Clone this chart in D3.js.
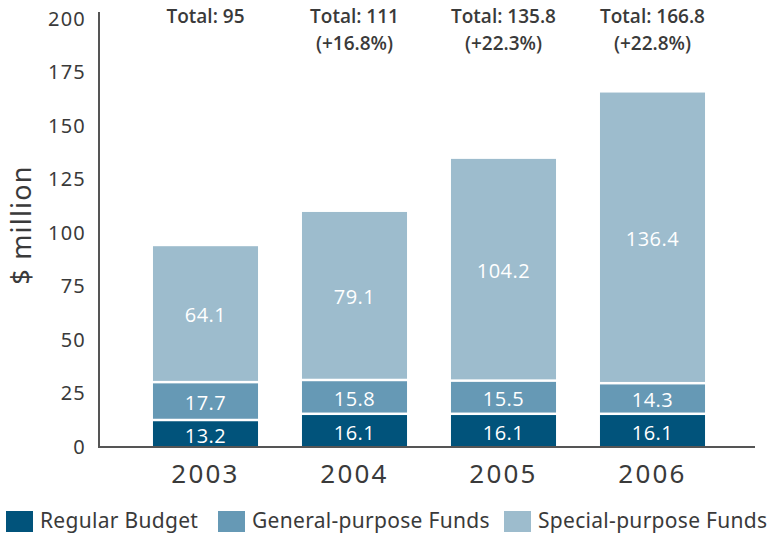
<!DOCTYPE html>
<html>
<head>
<meta charset="utf-8">
<script src="https://cdn.jsdelivr.net/npm/d3@7"></script>
<style>
  body { margin: 0; background: #fff; }
  text { font-family: "Noto Sans", sans-serif; }
</style>
</head>
<body>
<div class="chart"></div>
<script>
const years = ["2003", "2004", "2005", "2006"];
const regularBudget = [13.2, 16.1, 16.1, 16.1];
const generalFunds = [17.7, 15.8, 15.5, 14.3];
const specialFunds = [64.1, 79.1, 104.2, 136.4];
const totalLabels = [["Total: 95"], ["Total: 111", "(+16.8%)"], ["Total: 135.8", "(+22.3%)"], ["Total: 166.8", "(+22.8%)"]];
const seriesNames = ["Regular Budget", "General-purpose Funds", "Special-purpose Funds"];
const yTicks = [0, 25, 50, 75, 100, 125, 150, 175, 200];

const colors = ["#01537b", "#6699b5", "#9dbccd"];

const data = years.map((y, i) => ({
    year: y,
    "Regular Budget": regularBudget[i],
    "General-purpose Funds": generalFunds[i],
    "Special-purpose Funds": specialFunds[i]
}));

const width = 779, height = 534;

const svg = d3.select(".chart")
    .append("svg")
    .attr("width", width)
    .attr("height", height);

const xScale = d3.scaleBand()
    .domain(years)
    .range([131, 727])
    .paddingInner(0.295)
    .paddingOuter(0.1475);

const yScale = d3.scaleLinear()
    .domain([0, 200])
    .range([447, 19]);

const colorScale = d3.scaleOrdinal()
    .domain(seriesNames)
    .range(colors);

const stackedData = d3.stack().keys(seriesNames)(data);

// bars (white gap on top of each segment)
const gap = 2.5;
const layers = svg.selectAll(".layer")
    .data(stackedData)
    .join("g")
    .attr("class", "layer")
    .attr("fill", d => colorScale(d.key));

layers.selectAll("rect")
    .data(d => d)
    .join("rect")
    .attr("x", d => xScale(d.data.year))
    .attr("width", xScale.bandwidth())
    .attr("y", d => yScale(d[1]) + gap)
    .attr("height", d => yScale(d[0]) - yScale(d[1]) - gap);

// value labels
stackedData.forEach(layer => {
    svg.append("g")
        .selectAll("text")
        .data(layer)
        .join("text")
        .attr("x", d => xScale(d.data.year) + xScale.bandwidth() / 2)
        .attr("y", d => (yScale(d[0]) + yScale(d[1])) / 2 + 3)
        .attr("dy", "0.35em")
        .attr("text-anchor", "middle")
        .attr("fill", "#fff")
        .attr("font-size", 20)
        .attr("font-weight", 500)
        .attr("letter-spacing", 0.5)
        .style("font-family", "'Open Sans', sans-serif")
        .text(d => d3.format(".1f")(d.data[layer.key]));
});

// y axis
const yAxis = d3.axisLeft(yScale)
    .tickValues(yTicks)
    .tickSize(0)
    .tickPadding(13);

const yAxGr = svg.append("g")
    .attr("class", "axis y-axis")
    .attr("transform", "translate(99,0)")
    .call(yAxis);
yAxGr.select(".domain").remove();
yAxGr.selectAll("text")
    .attr("font-size", 20)
    .attr("letter-spacing", 1.2)
    .attr("fill", "#3a3a3a")
    .style("font-family", "'Noto Sans', sans-serif");

svg.append("line")
    .attr("x1", 99).attr("x2", 99)
    .attr("y1", 12).attr("y2", yScale(0))
    .attr("stroke", "#555").attr("stroke-width", 2);

// x axis
const xAxis = d3.axisBottom(xScale).tickSize(0).tickPadding(18);
const xAxGr = svg.append("g")
    .attr("class", "axis x-axis")
    .attr("transform", "translate(0," + yScale(0) + ")")
    .call(xAxis);
xAxGr.select(".domain").remove();
xAxGr.selectAll("text")
    .attr("font-size", 26)
    .attr("letter-spacing", 2.2)
    .attr("fill", "#3a3a3a")
    .style("font-family", "'Noto Sans', sans-serif");

svg.append("line")
    .attr("x1", 98).attr("x2", 755)
    .attr("y1", yScale(0)).attr("y2", yScale(0))
    .attr("stroke", "#555").attr("stroke-width", 2);

// y label
svg.append("text")
    .attr("transform", "translate(31," + 225 + ") rotate(-90)")
    .attr("text-anchor", "middle")
    .attr("font-size", 27)
    .attr("letter-spacing", 1.2)
    .attr("fill", "#3a3a3a")
    .text("$ million");

// totals
const totals = svg.append("g")
    .selectAll("text")
    .data(years)
    .join("text")
    .attr("x", d => xScale(d) + xScale.bandwidth() / 2)
    .attr("y", 23)
    .attr("text-anchor", "middle")
    .attr("font-size", 19)
    .attr("font-weight", 600)
    .attr("fill", "#3a3a3a")
    .style("font-family", "'Open Sans', sans-serif");
totals.selectAll("tspan")
    .data((d, i) => totalLabels[i])
    .join("tspan")
    .attr("x", function() { return this.parentNode.getAttribute("x"); })
    .attr("dy", (d, i) => i === 0 ? 0 : 27)
    .text(d => d);

// legend
const legendX = [6, 218, 504];
const legend = svg.append("g")
    .selectAll("g")
    .data(seriesNames)
    .join("g")
    .attr("transform", (d, i) => "translate(" + legendX[i] + ",511)");
legend.append("rect")
    .attr("width", 27)
    .attr("height", 21)
    .attr("fill", d => colorScale(d));
legend.append("text")
    .attr("x", 34)
    .attr("y", 17)
    .attr("font-size", 21)
    .attr("letter-spacing", 0.3)
    .attr("fill", "#3a3a3a")
    .text(d => d);
</script>
</body>
</html>
